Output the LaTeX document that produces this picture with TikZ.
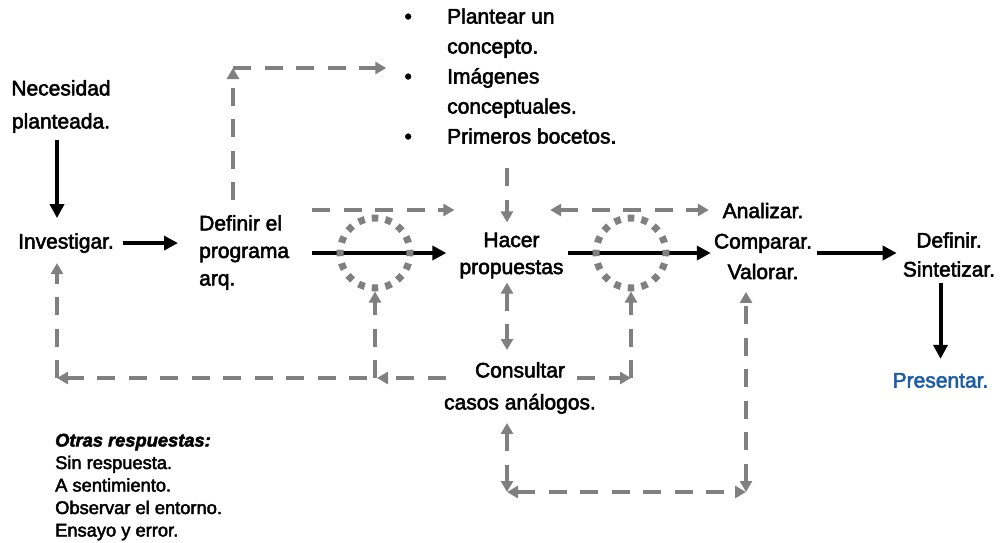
\documentclass[tikz,border=0pt]{standalone}
\usepackage{fontspec}
\setmainfont{Liberation Sans}[FakeBold=2.5]
\usepackage{tikz}
\usetikzlibrary{arrows.meta,calc}
\definecolor{arrgray}{RGB}{128,128,128}
\definecolor{presblue}{RGB}{28,92,165}

\begin{document}
\begin{tikzpicture}[x=1pt,y=-1pt,
  txt/.style={inner sep=2pt, align=center},
  blk/.style={line width=4pt, -{Triangle[length=14pt,width=14pt]}},
  gar/.style={arrgray, line width=4pt, dash pattern=on 18pt off 13.5pt,
    -{Triangle[length=11pt,width=12pt]}},
  gar2/.style={gar, {Triangle[length=11pt,width=12pt]}-{Triangle[length=11pt,width=12pt]}},
  ring/.style={circle, draw=arrgray, line width=7pt, minimum size=70pt,
    inner sep=0pt, dash pattern=on 6.5pt off 7.24pt, dash phase=3.25pt}]
  \useasboundingbox (0,0) rectangle (1000,542);
  % texts
  \node[txt, font=\fontsize{21}{33}\selectfont] (nec) at (61,106.5) {Necesidad\\planteada.};
  \node[txt, anchor=base, font=\fontsize{21}{25}\selectfont] (inv) at (66,248.5) {Investigar.};
  \node[txt, anchor=west, align=left, font=\fontsize{21}{27.5}\selectfont] (def) at (197,252.5)
    {Definir el\\programa\\arq.};
  \node[txt, anchor=west, font=\fontsize{21}{30}\selectfont] (ideas) at (402.3,77.5)
    {\begin{tabular}{@{}l@{}l@{}}
      \makebox[42.7pt][l]{\textbullet} & Plantear un\\
      & concepto.\\
      \makebox[42.7pt][l]{\textbullet} & Imágenes\\
      & conceptuales.\\
      \makebox[42.7pt][l]{\textbullet} & Primeros bocetos.
    \end{tabular}};
  \node[txt, font=\fontsize{21}{27}\selectfont] (hac) at (511.5,255.5) {Hacer\\propuestas};
  \node[txt, font=\fontsize{21}{30.5}\selectfont] (ana) at (763,241) {Analizar.\\Comparar.\\Valorar.};
  \node[txt, font=\fontsize{21}{29}\selectfont] (sin) at (949,254.5) {Definir.\\Sintetizar.};
  \node[txt, anchor=base, text=presblue, font=\fontsize{21}{25}\selectfont] (pre) at (940.5,387.5) {Presentar.};
  \node[txt, font=\fontsize{21}{32}\selectfont] (con) at (520,388) {Consultar\\casos análogos.};
  \node[txt, anchor=west, align=left, font=\fontsize{18.3}{22.5}\selectfont] (otr) at (53,487)
    {\textbf{\textit{Otras respuestas:}}\\Sin respuesta.\\A sentimiento.\\Observar el entorno.\\Ensayo y error.};
  % corners
  \coordinate (c1) at (375,253);
  \coordinate (c2) at (631,253);
  \coordinate (k1) at (233,68);
  \coordinate (kt) at (507,210);
  \coordinate (kl) at (57,378);
  \coordinate (km) at (c1 |- kl);
  \coordinate (kr) at (c2 |- kl);
  \coordinate (kb1) at (507,492);
  \coordinate (kb2) at (746,492);
  % main flow
  \draw[blk, shorten <=5pt, shorten >=13pt] ($(nec.south)+(-4,0)$) -- ($(nec.south |- inv.north)+(-4,0)$);
  \draw[blk, shorten <=7pt, shorten >=19pt] (inv.east) -- (inv.east -| def.west);
  \draw[blk, shorten <=21pt, shorten >=11pt] (def.east |- c1) -- (hac.west |- c1);
  \draw[blk, shorten <=2.5pt, shorten >=1pt] (hac.east |- c2) -- (ana.west |- c2);
  \draw[blk, shorten <=3pt, shorten >=4pt] (ana.east |- c2) -- (sin.west |- c2);
  \draw[blk, shorten <=4.5pt, shorten >=12pt] (sin.south -| pre.north) -- (pre.north);
  \node[ring] (r1) at (c1) {};
  \node[ring] (r2) at (c2) {};
  % feedback
  \draw[gar, shorten <=13pt] (def.north -| k1) -- (k1);
  \draw[gar, shorten >=16pt] (k1) -- (k1 -| ideas.west);
  \draw[gar, shorten <=21pt, shorten >=3pt] (def.east |- kt) -- (hac.west |- kt);
  \draw[gar, shorten <=13.5pt, shorten >=8pt] (ideas.south -| kt) -- (kt |- hac.north);
  \draw[gar2] ($(hac.east |- kt)+(-15.5,0)$) -- ($(ana.west |- kt)+(-3,0)$);
  \draw[gar2, shorten <=2pt, shorten >=10pt] (kt |- hac.south) -- (kt |- con.north);
  \draw[gar, shorten >=2pt] ($(con.west |- km)+(4,0)$) -- (km);
  \draw[gar] (km) -- (r1);
  \draw[gar] ($(km)+(-8,0)$) -- (kl);
  \draw[gar, shorten >=8pt] (kl) -- (kl |- inv.south);
  \draw[gar] ($(con.east |- kr)+(-21,0)$) -- (kr);
  \draw[gar] (kr) -- (r2);
  \draw[gar2, shorten <=7pt] (kt |- con.south) -- (kb1);
  \draw[gar2] (kb1) -- (kb2);
  \draw[gar2, shorten >=10.5pt] (kb2) -- (kb2 |- ana.south);
\end{tikzpicture}
\end{document}
